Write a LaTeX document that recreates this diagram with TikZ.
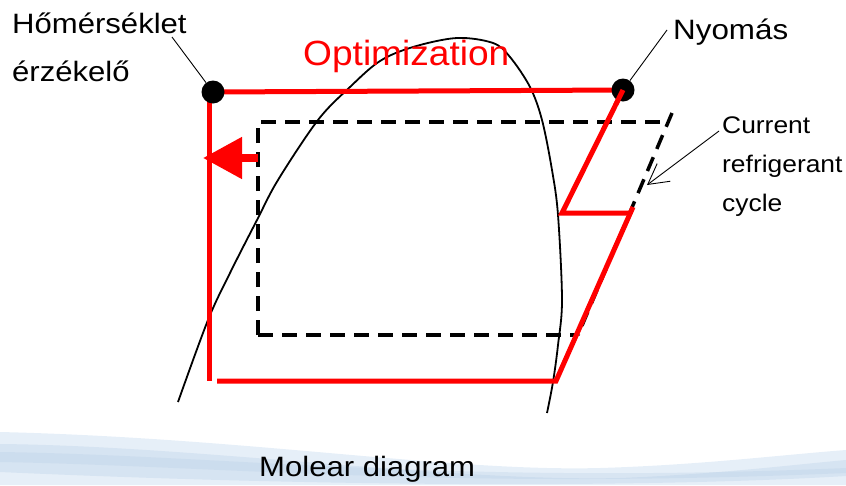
\documentclass[tikz,border=0pt]{standalone}
\usepackage{graphicx}
\usepackage{fontspec}
\setmainfont{Liberation Sans}
\usetikzlibrary{arrows.meta,calc}
\definecolor{redline}{RGB}{255,0,0}
\definecolor{swA}{RGB}{230,239,248}
\definecolor{swB}{RGB}{204,221,238}
\definecolor{swC}{RGB}{178,203,228}
\newcommand{\wide}[2]{\scalebox{#1}[1]{#2}}
\tikzset{
 redpath/.style={draw=redline, line width=5pt},
 cyclepath/.style={draw=black, line width=3.5pt, dash pattern=on 15pt off 9pt},
 dome/.style={draw=black, line width=1.8pt},
 leader/.style={draw=black, line width=0.9pt},
 sensor/.style={circle, fill=black, minimum size=23pt, inner sep=0pt},
 biglbl/.style={font=\fontsize{28}{34}\selectfont, inner sep=0pt, anchor=base west},
 smalllbl/.style={font=\fontsize{24}{30}\selectfont, inner sep=0pt, anchor=base west},
}
\begin{document}
\begin{tikzpicture}[x=1pt,y=-1pt]
\useasboundingbox (0,0) rectangle (846,485);
% background swoosh
\fill[swA] (0,432) .. controls (250,438) and (450,472) .. (600,468) .. controls (700,465) and (780,455) .. (846,450) -- (846,485) -- (0,485) -- cycle;
\fill[swB, opacity=0.6] (0,444) .. controls (200,446) and (450,482) .. (620,478) .. controls (720,474) and (790,465) .. (846,460) -- (846,476) .. controls (700,485) and (400,490) .. (0,472) -- cycle;
\fill[swC, opacity=0.25] (0,452) .. controls (220,455) and (450,485) .. (846,468) -- (846,473) .. controls (450,490) and (220,466) .. (0,462) -- cycle;

% saturation dome
\draw[dome] plot[smooth, tension=0.55] coordinates {(178,402) (208,320) (230,273) (257,220) (278,180) (318,120) (350,87) (380,61) (413,47) (457,38) (493,43) (510,57) (530,87) (542,120) (552,170) (558,215) (562,300) (558,345) (553,382) (547,413)};

% current cycle (dashed)
\coordinate (c1) at (258,335);
\coordinate (c2) at (258,122);
\coordinate (c3) at (668,122);
\coordinate (c4) at (672,113);
\coordinate (c5) at (578,335);
\draw[cyclepath] (c1) -- (c2) -- (c3);
\draw[cyclepath] (c4) -- (c5);
\draw[cyclepath] (c1) -- (c5);

% optimized cycle (red)
\coordinate (p1) at (213,92);
\coordinate (p2) at (623,90);
\coordinate (r1) at (209,94);
\coordinate (r2) at (209,381);
\coordinate (r3) at (217,381);
\coordinate (r4) at (556,381);
\coordinate (r5) at (633,207);
\coordinate (r6) at (562,213);
\coordinate (r7) at (631,213);
\draw[redpath] (p1) -- (p2);
\draw[redpath] (r1) -- (r2);
\draw[redpath] (r3) -- (r4) -- (r5);
\draw[redpath, line join=miter] (p2) -- (r6) -- (r7);
\node[sensor] (tl) at (p1) {};
\node[sensor] (tr) at (p2) {};
\draw[redpath] (tr.center) -- ($(tr.center)!0.12!(r6)$);

% optimization arrow
\coordinate (a1) at (258,158);
\coordinate (a2) at (203,158);
\draw[draw=redline, line width=8pt, -{Triangle[length=39pt,width=40pt]}, redline] (a1) -- (a2);

% labels
\node[biglbl] (h1) at (12,33) {\wide{1.11}{Hőmérséklet}};
\node[biglbl] (h2) at (12,81) {\wide{1.11}{érzékelő}};
\node[biglbl, font=\fontsize{35}{40}\selectfont, text=redline] (opt) at (303,65) {\wide{1.06}{Optimization}};
\node[biglbl] (ny) at (673,39) {\wide{1.12}{Nyomás}};
\node[smalllbl] (cc1) at (722,133) {\wide{1.1}{Current}};
\node[smalllbl] (cc2) at (722,172) {\wide{1.1}{refrigerant}};
\node[smalllbl] (cc3) at (722,211) {\wide{1.1}{cycle}};
\node[biglbl] (mol) at (259,476) {\wide{1.11}{Molear diagram}};

% leaders
\coordinate (hl) at (172,37);
\coordinate (nl) at (667,30);
\coordinate (cl) at (719,131);
\coordinate (ct) at (647,185);
\draw[leader] (hl) -- (tl);
\draw[leader] (nl) -- (tr);
\draw[leader, -{Straight Barb[length=20pt,width=22pt]}] (cl) -- (ct);
\end{tikzpicture}
\end{document}
